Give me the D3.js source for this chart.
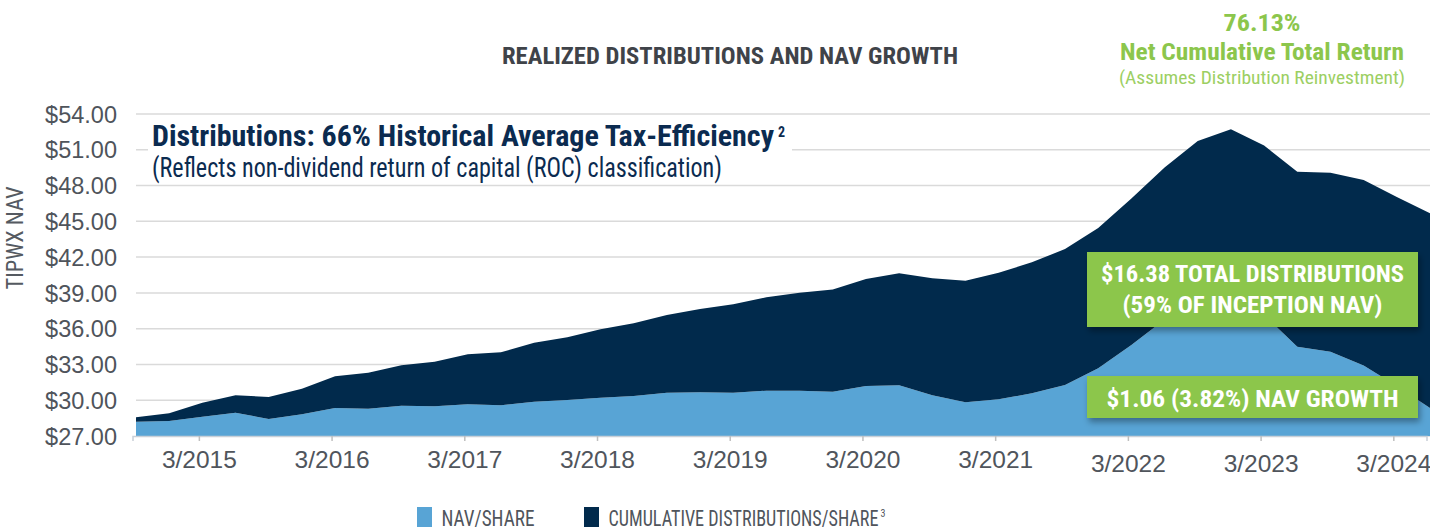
<!DOCTYPE html>
<html>
<head>
<meta charset="utf-8">
<script src="https://cdn.jsdelivr.net/npm/d3@7"></script>
<style>
  body { margin: 0; background: #fff; }
  svg { display: block; }
</style>
</head>
<body>
<div id="chart"></div>
<script>
// quarter-end points
var quarters = ["9/2014","12/2014","3/2015","6/2015","9/2015","12/2015","3/2016","6/2016","9/2016","12/2016",
                "3/2017","6/2017","9/2017","12/2017","3/2018","6/2018","9/2018","12/2018","3/2019","6/2019",
                "9/2019","12/2019","3/2020","6/2020","9/2020","12/2020","3/2021","6/2021","9/2021","12/2021",
                "3/2022","6/2022","9/2022","12/2022","3/2023","6/2023","9/2023","12/2023","3/2024","6/2024"];

var navShare = [28.20,28.26,28.62,28.95,28.43,28.82,29.35,29.29,29.54,29.49,
                29.66,29.57,29.88,30.02,30.21,30.35,30.63,30.66,30.63,30.80,
                30.80,30.71,31.19,31.26,30.41,29.83,30.08,30.58,31.28,32.68,
                34.63,36.76,38.54,39.02,37.16,34.49,34.07,32.91,31.19,29.35];

var cumDist = [0.37,0.64,1.17,1.46,1.84,2.15,2.66,3.02,3.39,3.74,
               4.19,4.45,4.94,5.26,5.74,6.10,6.52,6.99,7.41,7.83,
               8.22,8.57,8.97,9.38,9.81,10.19,10.61,10.98,11.40,11.76,
               12.28,12.75,13.20,13.70,14.20,14.67,15.01,15.56,15.85,16.32];

var yTicks = [27,30,33,36,39,42,45,48,51,54];
var xTickLabels = ["3/2015","3/2016","3/2017","3/2018","3/2019","3/2020","3/2021","3/2022","3/2023","3/2024"];

var width = 1430, height = 531;
var navColor = "#58a4d5", distColor = "#012a4c", green = "#8cc64c";
var narrow = "'Liberation Sans Narrow', 'Roboto Condensed', 'Liberation Sans', Arial, sans-serif";

var svg = d3.select("#chart").append("svg")
    .attr("width", width)
    .attr("height", height);

var x = d3.scaleLinear().domain([0, quarters.length - 1]).range([136, 1430]);
var y = d3.scaleLinear().domain([27, 54]).range([436, 114]);

var defs = svg.append("defs");
defs.append("clipPath").attr("id", "plot")
  .append("rect").attr("x", 136).attr("y", 90).attr("width", 1294).attr("height", 346);
var shadow = defs.append("filter").attr("id", "shadow")
    .attr("x", "-10%").attr("y", "-20%").attr("width", "130%").attr("height", "160%");
shadow.append("feDropShadow").attr("dx", 2).attr("dy", 4).attr("stdDeviation", 3)
    .attr("flood-color", "#000").attr("flood-opacity", 0.35);

// gridlines
svg.append("g").selectAll("line")
  .data(yTicks)
  .enter().append("line")
    .attr("x1", 136).attr("x2", 1430)
    .attr("y1", function(d) { return y(d); })
    .attr("y2", function(d) { return y(d); })
    .attr("stroke", "#dadada")
    .attr("stroke-width", 1.5);

// y labels
svg.append("g").selectAll("text")
  .data(yTicks)
  .enter().append("text")
    .attr("x", 117)
    .attr("y", function(d) { return y(d); })
    .attr("dy", "0.37em")
    .attr("text-anchor", "end")
    .style("font-family", "'Liberation Sans', Arial, sans-serif")
    .style("font-size", "23.5px")
    .attr("fill", "#4f545b")
    .text(function(d) { return "$" + d3.format(".2f")(d); });

svg.append("text")
    .attr("transform", "translate(23,238) rotate(-90)")
    .attr("text-anchor", "middle")
    .attr("textLength", 103).attr("lengthAdjust", "spacingAndGlyphs")
    .style("font-family", narrow)
    .style("font-size", "23px")
    .attr("fill", "#555a61")
    .text("TIPWX NAV");

// stacked areas
var rows = quarters.map(function(q, i) { return {q: q, nav: navShare[i], dist: cumDist[i]}; });
var series = d3.stack().keys(["nav", "dist"])(rows);
var area = d3.area()
    .x(function(d, i) { return x(i); })
    .y0(function(d) { return y(d[0]); })
    .y1(function(d) { return y(d[1]); });

svg.append("g").attr("clip-path", "url(#plot)")
  .selectAll("path")
  .data(series)
  .enter().append("path")
    .attr("d", area)
    .attr("fill", function(d) { return d.key === "nav" ? navColor : distColor; });

// x axis
var xAxis = d3.axisBottom(x)
    .tickValues(xTickLabels.map(function(l) { return quarters.indexOf(l); }))
    .tickFormat(function(i) { return quarters[i]; })
    .tickSize(5)
    .tickPadding(10);

var gx = svg.append("g")
    .attr("transform", "translate(-3.5,436)")
    .call(xAxis);
gx.select(".domain").attr("stroke", "#c9d0d8").attr("stroke-width", 1.5);
gx.selectAll(".tick line").attr("stroke", "#bfbfbf").attr("stroke-width", 1.5);
gx.selectAll(".tick text")
    .style("font-family", "'Liberation Sans', Arial, sans-serif")
    .style("font-size", "24.5px")
    .attr("fill", "#50555c")
    .attr("dy", function(i) { return +quarters[i].slice(2) >= 2022 ? "0.85em" : "0.71em"; });

// title
svg.append("text")
    .attr("x", 730).attr("y", 64)
    .attr("text-anchor", "middle")
    .attr("textLength", 456).attr("lengthAdjust", "spacingAndGlyphs")
    .style("font-family", narrow).style("font-weight", "bold").style("font-size", "23px")
    .attr("fill", "#3f4349")
    .text("REALIZED DISTRIBUTIONS AND NAV GROWTH");

// tax-efficiency note
svg.append("rect").attr("x", 148).attr("y", 118).attr("width", 644).attr("height", 64).attr("fill", "#fff");
var note = svg.append("text")
    .attr("x", 152).attr("y", 146)
    .style("font-family", narrow).style("font-weight", "bold")
    .attr("fill", "#0b2b50");
note.append("tspan")
    .attr("textLength", 622).attr("lengthAdjust", "spacingAndGlyphs")
    .style("font-size", "29px")
    .text("Distributions: 66% Historical Average Tax-Efficiency");
note.append("tspan")
    .attr("x", 778).attr("dy", -9)
    .style("font-size", "14px")
    .text("2");
svg.append("text")
    .attr("x", 152).attr("y", 177)
    .attr("textLength", 570).attr("lengthAdjust", "spacingAndGlyphs")
    .style("font-family", narrow).style("font-size", "28px")
    .attr("fill", "#0b2b50")
    .text("(Reflects non-dividend return of capital (ROC) classification)");

// total return note
var tr = [
  {t: "76.13%", y: 31, size: 24, w: 77, bold: true},
  {t: "Net Cumulative Total Return", y: 60, size: 24, w: 284, bold: true},
  {t: "(Assumes Distribution Reinvestment)", y: 83.5, size: 18, w: 286, bold: false}
];
svg.append("g").selectAll("text")
  .data(tr)
  .enter().append("text")
    .attr("x", 1262).attr("y", function(d) { return d.y; })
    .attr("text-anchor", "middle")
    .attr("textLength", function(d) { return d.w; }).attr("lengthAdjust", "spacingAndGlyphs")
    .style("font-family", narrow)
    .style("font-weight", function(d) { return d.bold ? "bold" : "normal"; })
    .style("font-size", function(d) { return d.size + "px"; })
    .attr("fill", function(d) { return d.bold ? green : "#9ccf63"; })
    .text(function(d) { return d.t; });

// green callouts
var boxes = [
  {y: 252, h: 75, lines: [{t: "$16.38 TOTAL DISTRIBUTIONS", y: 282, w: 303}, {t: "(59% OF INCEPTION NAV)", y: 313, w: 260}]},
  {y: 376, h: 42, lines: [{t: "$1.06 (3.82%) NAV GROWTH", y: 407, w: 292}]}
];
boxes.forEach(function(b) {
  var g = svg.append("g");
  g.append("rect")
    .attr("x", 1087).attr("y", b.y).attr("width", 331).attr("height", b.h)
    .attr("fill", green)
    .attr("filter", "url(#shadow)");
  g.selectAll("text")
    .data(b.lines)
    .enter().append("text")
      .attr("x", 1252.5).attr("y", function(d) { return d.y; })
      .attr("text-anchor", "middle")
      .attr("textLength", function(d) { return d.w; }).attr("lengthAdjust", "spacingAndGlyphs")
      .style("font-family", narrow).style("font-weight", "bold").style("font-size", "23px")
      .attr("fill", "#fff")
      .text(function(d) { return d.t; });
});

// legend
var legend = [
  {label: "NAV/SHARE", color: navColor, x: 417, w: 93, sup: ""},
  {label: "CUMULATIVE DISTRIBUTIONS/SHARE", color: distColor, x: 584, w: 270, sup: "3"}
];
var lg = svg.append("g").selectAll("g")
  .data(legend)
  .enter().append("g")
    .attr("transform", function(d) { return "translate(" + d.x + ",0)"; });
lg.append("rect")
    .attr("x", 0).attr("y", 507).attr("width", 15).attr("height", 20)
    .attr("fill", function(d) { return d.color; });
// squeeze the label to the narrow width with a scale, so its box matches what is drawn
lg.append("g")
    .attr("transform", "translate(24.5,526)")
  .append("text")
    .style("font-family", narrow).style("font-size", "22px")
    .attr("fill", "#50555c")
    .text(function(d) { return d.label; })
    .attr("transform", function(d) {
      return "scale(" + (d.w / this.getComputedTextLength()) + ",1)";
    });
lg.filter(function(d) { return d.sup; })
  .append("text")
    .attr("x", function(d) { return 24.5 + d.w + 2; }).attr("y", 517)
    .style("font-family", narrow).style("font-size", "10px")
    .attr("fill", "#50555c")
    .text(function(d) { return d.sup; });
</script>
</body>
</html>
